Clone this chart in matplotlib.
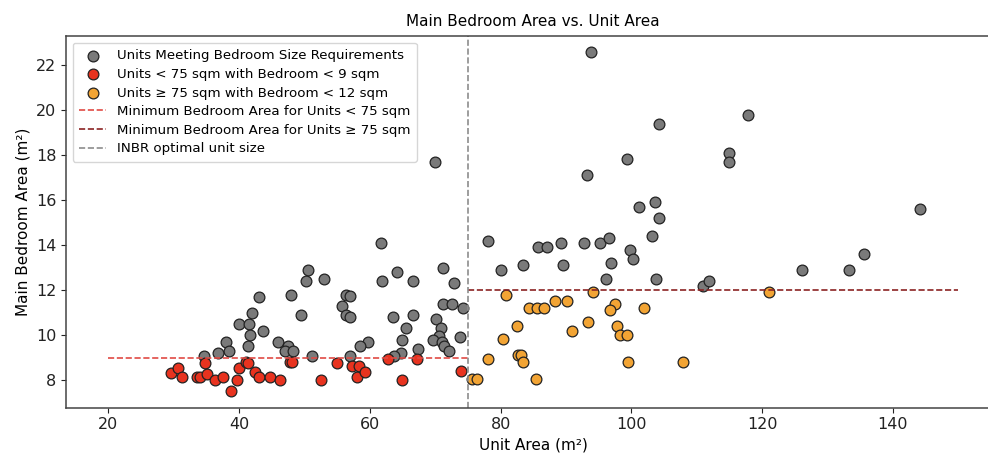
#!/usr/bin/env python3
"""Scatter of main bedroom area against unit area, with minimum-size thresholds."""
import matplotlib

matplotlib.use("Agg")
import matplotlib.pyplot as plt


# units that meet the bedroom size rule
ok_unit = [
    61.7, 50.6, 50.2, 53.0, 71.2, 64.2, 61.9, 66.6, 72.9, 43.1, 47.9, 56.3,
    56.9, 71.2, 72.5, 42.0, 55.8, 56.3, 57.0, 74.3, 39.9, 41.5, 43.6, 49.4,
    63.6, 66.6, 70.1, 65.5, 41.6, 70.9, 70.5, 69.6, 71.0, 71.3, 72.1, 73.8,
    64.9, 67.3, 64.7, 63.7, 59.7, 58.5, 56.9, 51.1, 46.0, 47.5, 47.0, 48.2,
    41.4, 38.0, 38.4, 36.8, 34.6, 70.0,
    99.3, 93.2, 114.9, 115.0, 101.2, 103.7, 104.2, 103.2, 78.1, 85.7, 87.1,
    89.2, 92.8, 95.2, 96.6, 99.8, 100.2, 80.1, 83.4, 89.6, 96.9, 96.2, 103.8,
    110.9, 111.9, 93.9, 104.2, 117.9, 144.2, 126.1, 133.3, 135.6,
]
ok_bedroom = [
    14.1, 12.9, 12.4, 12.5, 13.0, 12.8, 12.4, 12.4, 12.3, 11.7, 11.8, 11.8,
    11.75, 11.4, 11.4, 11.0, 11.3, 10.9, 10.8, 11.2, 10.5, 10.5, 10.2, 10.9,
    10.8, 10.9, 10.7, 10.3, 10.0, 10.3, 9.95, 9.8, 9.7, 9.5, 9.3, 9.9,
    9.8, 9.4, 9.2, 9.05, 9.7, 9.5, 9.05, 9.05, 9.7, 9.5, 9.3, 9.3,
    9.5, 9.7, 9.3, 9.2, 9.05, 17.7,
    17.85, 17.1, 18.1, 17.7, 15.7, 15.9, 15.2, 14.4, 14.2, 13.9, 13.9,
    14.1, 14.1, 14.1, 14.3, 13.8, 13.4, 12.9, 13.1, 13.1, 13.2, 12.5, 12.5,
    12.2, 12.4, 22.6, 19.4, 19.8, 15.6, 12.9, 12.9, 13.6,
]

# units < 75 sqm with bedroom < 9 sqm
small_unit = [
    29.5, 30.7, 31.3, 33.6, 34.0, 34.7, 35.0, 36.3, 37.6, 38.7, 39.6, 40.0,
    41.0, 41.3, 42.4, 43.1, 44.7, 46.2, 47.7, 48.1, 52.5, 54.9, 57.2, 58.3,
    58.0, 59.2, 62.7, 64.9, 67.2, 73.9,
]
small_bedroom = [
    8.33, 8.55, 8.12, 8.12, 8.12, 8.74, 8.25, 8.0, 8.12, 7.53, 8.0, 8.52,
    8.81, 8.74, 8.34, 8.12, 8.12, 8.0, 8.81, 8.81, 8.0, 8.74, 8.64, 8.64,
    8.12, 8.34, 8.92, 8.0, 8.92, 8.4,
]

# units >= 75 sqm with bedroom < 12 sqm
large_unit = [
    75.7, 76.4, 78.1, 80.3, 80.9, 82.5, 82.6, 83.1, 83.5, 85.4, 84.3, 85.5,
    86.6, 88.3, 90.1, 90.9, 93.4, 94.2, 97.5, 96.8, 97.8, 98.2, 99.4, 99.5,
    102.0, 107.9, 121.0,
]
large_bedroom = [
    8.03, 8.03, 8.92, 9.81, 11.8, 10.4, 9.11, 9.11, 8.81, 8.03, 11.2, 11.2,
    11.2, 11.5, 11.5, 10.2, 10.6, 11.9, 11.4, 11.1, 10.4, 10.0, 10.0, 8.81,
    11.2, 8.81, 11.9,
]

# thresholds: (bedroom minimum, unit range start, unit range end)
min_small = (9, 20, 75)
min_large = (12, 75, 150)
inbr_optimal = 75

fig = plt.figure(figsize=(9.88, 4.59), dpi=100)
# the original was cropped on the right, so the axes run past the figure edge
ax = fig.add_axes([0.0668, 0.1118, 0.9459, 0.8098])

marker = dict(s=60, edgecolors="#222222", linewidths=0.9)
ax.scatter(ok_unit, ok_bedroom, color="#7a7a7a", label="Units Meeting Bedroom Size Requirements", **marker)
ax.scatter(small_unit, small_bedroom, color="#e8331f", label="Units < 75 sqm with Bedroom < 9 sqm", **marker)
ax.scatter(large_unit, large_bedroom, color="#f2a434", label="Units ≥ 75 sqm with Bedroom < 12 sqm", **marker)

ax.hlines(min_small[0], min_small[1], min_small[2], colors="#e04a44", linestyles="--",
          linewidth=1.2, label="Minimum Bedroom Area for Units < 75 sqm")
ax.hlines(min_large[0], min_large[1], min_large[2], colors="#8b2323", linestyles="--",
          linewidth=1.2, label="Minimum Bedroom Area for Units ≥ 75 sqm")
ax.axvline(inbr_optimal, color="#8c8c8c", linestyle="--", linewidth=1.2, label="INBR optimal unit size")

ax.set_xlim(13.5, 156.5)
ax.set_ylim(6.77, 23.3)
ax.set_xticks([20, 40, 60, 80, 100, 120, 140])
ax.set_yticks([8, 10, 12, 14, 16, 18, 20, 22])
ax.tick_params(labelsize=11.5, colors="#222222")
for spine in ax.spines.values():
    spine.set_color("#444444")
    spine.set_linewidth(1.1)

ax.set_xlabel("Unit Area (m²)", fontsize=11)
ax.set_ylabel("Main Bedroom Area (m²)", fontsize=11)
ax.set_title("Main Bedroom Area vs. Unit Area", fontsize=11, pad=7)
ax.legend(loc="upper left", fontsize=9.6, frameon=True, handlelength=2.0, borderpad=0.5, labelspacing=0.42)

fig.savefig("out.png", dpi=100)
